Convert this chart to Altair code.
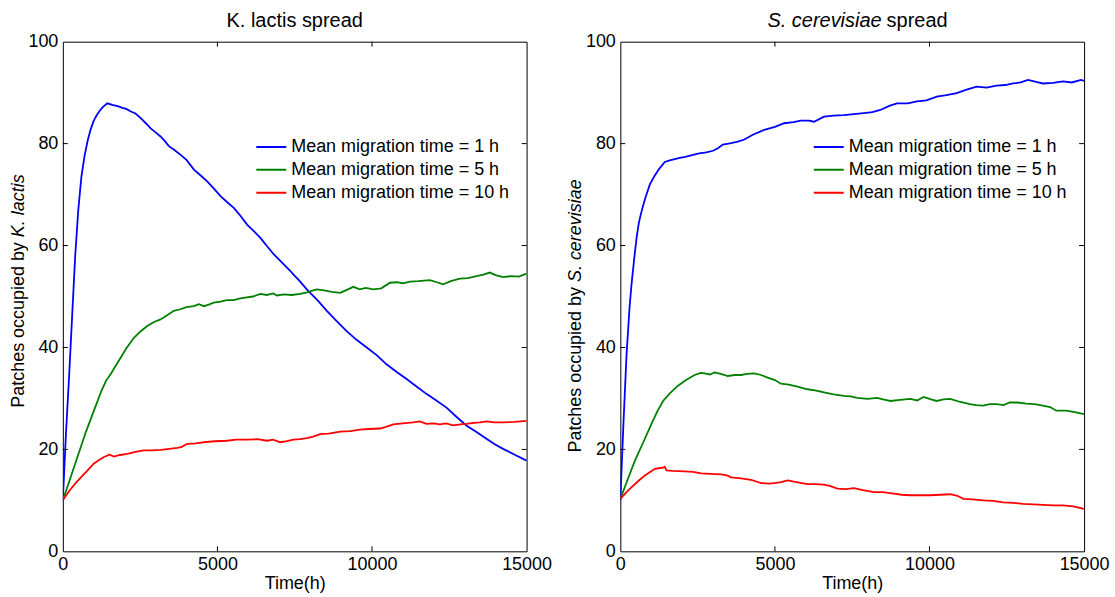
import altair as alt
import pandas as pd

FONT = "Liberation Sans"
W, H = 465, 511

SERIES = ["Mean migration time = 1 h", "Mean migration time = 5 h", "Mean migration time = 10 h"]
COLORS = ["#0000FF", "#008000", "#FF0000"]

X_TICKS = [0, 5000, 10000, 15000]
Y_TICKS = [0, 20, 40, 60, 80, 100]
INNER_X_TICKS = [5000, 10000]
INNER_Y_TICKS = [20, 40, 60, 80]

# ---- K. lactis panel ----
kl1_t = [0, 100, 200, 300, 400, 500, 600, 700, 800, 900, 1000, 1100, 1200, 1300, 1440, 1600, 1800, 1925,
         2050, 2200, 2350, 2520, 2700, 2840, 3000, 3160, 3300, 3430, 3600, 3810, 4000, 4240, 4450, 4670,
         4880, 5100, 5300, 5530, 5750, 5960, 6170, 6390, 6600, 6820, 7100, 7360, 7460, 7650, 7890, 8000,
         8250, 8540, 8850, 9180, 9500, 9830, 10150, 10470, 10800, 11120, 11450, 11760, 12080, 12410,
         12730, 13050, 13380, 13700, 13970, 14240, 14600, 15000]
kl1_v = [10, 23, 34, 46, 58, 67, 73.5, 77.5, 80.5, 82.8, 84.5, 85.6, 86.5, 87.2, 87.9, 87.6, 87.3, 87.0,
         86.8, 86.3, 85.9, 85.0, 83.9, 83.0, 82.2, 81.4, 80.5, 79.5, 78.8, 77.8, 76.8, 74.9, 73.8, 72.6,
         71.2, 69.7, 68.6, 67.4, 65.8, 64.1, 62.9, 61.5, 59.9, 58.3, 56.6, 55.0, 54.3, 53.1, 51.4, 50.7,
         49.2, 47.2, 45.2, 43.2, 41.5, 40.0, 38.5, 36.7, 35.2, 33.8, 32.3, 30.9, 29.6, 28.2, 26.4, 24.7,
         23.4, 22.1, 21.0, 20.1, 19.0, 17.8]

kl5_t = [0, 250, 500, 750, 1000, 1250, 1400, 1550, 1700, 1870, 2050, 2300, 2500, 2730, 2950, 3160, 3400,
         3590, 3800, 4000, 4240, 4400, 4560, 4720, 4880, 5100, 5300, 5530, 5700, 5900, 6150, 6390, 6600,
         6800, 6930, 7150, 7400, 7680, 7900, 8100, 8215, 8450, 8700, 8970, 9150, 9400, 9600, 9800, 10040,
         10300, 10580, 10800, 11000, 11230, 11500, 11870, 12100, 12300, 12550, 12840, 13100, 13380, 13600,
         13810, 14000, 14240, 14500, 14750, 15000]
kl5_v = [10, 14.5, 19, 23.5, 27.5, 31.5, 33.5, 34.8, 36.3, 38.0, 39.8, 41.9, 43.1, 44.2, 45.0, 45.5, 46.4,
         47.2, 47.5, 47.9, 48.1, 48.5, 48.1, 48.4, 48.8, 49.0, 49.3, 49.3, 49.6, 49.8, 50.0, 50.5, 50.3,
         50.6, 50.2, 50.4, 50.3, 50.5, 50.8, 51.2, 51.4, 51.2, 50.9, 50.7, 51.2, 51.9, 51.4, 51.7, 51.4,
         51.6, 52.7, 52.8, 52.6, 52.9, 53.0, 53.2, 52.8, 52.4, 53.0, 53.5, 53.6, 54.0, 54.3, 54.7, 54.2,
         53.8, 54.0, 53.9, 54.5]

kl10_t = [0, 200, 400, 600, 800, 1000, 1170, 1330, 1450, 1500, 1650, 1850, 2090, 2350, 2620, 2900, 3160,
          3450, 3700, 3850, 4020, 4300, 4560, 4900, 5310, 5600, 5960, 6300, 6600, 6800, 7030, 7250, 7460,
          7680, 7890, 8100, 8320, 8600, 8970, 9300, 9610, 9900, 10260, 10450, 10690, 11000, 11330, 11550,
          11760, 12000, 12190, 12400, 12620, 12850, 13050, 13300, 13500, 13700, 13950, 14240, 14600, 15000]
kl10_v = [10, 11.8, 13.3, 14.6, 15.9, 17.2, 17.9, 18.5, 18.8, 19.0, 18.6, 18.9, 19.1, 19.5, 19.8, 19.8,
          19.9, 20.1, 20.3, 20.5, 21.1, 21.2, 21.4, 21.6, 21.7, 21.9, 21.9, 22.0, 21.7, 21.9, 21.4, 21.6,
          21.9, 22.0, 22.2, 22.5, 23.0, 23.1, 23.5, 23.6, 23.9, 24.0, 24.1, 24.4, 24.9, 25.1, 25.3, 25.5,
          25.0, 25.1, 24.9, 25.1, 24.7, 24.9, 25.0, 25.2, 25.3, 25.5, 25.3, 25.3, 25.4, 25.6]

# ---- S. cerevisiae panel ----
sc1_t = [0, 100, 200, 300, 364, 450, 525, 600, 686, 800, 955, 1100, 1250, 1438, 1600, 1920, 2100, 2350,
         2550, 2780, 3000, 3155, 3315, 3583, 3800, 4013, 4300, 4656, 5000, 5300, 5600, 5836, 6100, 6265,
         6587, 6900, 7230, 7550, 7874, 8150, 8410, 8700, 8948, 9300, 9592, 9900, 10236, 10550, 10880,
         11200, 11524, 11850, 12167, 12450, 12704, 12950, 13187, 13450, 13670, 14000, 14314, 14600, 14903, 15000]
sc1_v = [10, 25, 38.5, 48, 52.5, 57.5, 61.5, 64.5, 66.7, 69.2, 72, 73.6, 75.0, 76.4, 76.7, 77.2, 77.4,
         77.8, 78.1, 78.3, 78.6, 79.1, 79.8, 80.1, 80.4, 80.8, 81.8, 82.7, 83.3, 84.0, 84.2, 84.5, 84.5,
         84.3, 85.3, 85.5, 85.6, 85.8, 86.0, 86.2, 86.6, 87.4, 87.9, 87.9, 88.3, 88.5, 89.2, 89.5, 89.9,
         90.6, 91.2, 91.0, 91.4, 91.5, 91.8, 92.0, 92.5, 92.1, 91.8, 91.9, 92.2, 92.0, 92.5, 92.3]

sc5_t = [0, 250, 472, 750, 1008, 1200, 1384, 1600, 1867, 2100, 2404, 2600, 2726, 2900, 3047, 3250, 3476,
         3700, 3905, 4100, 4335, 4550, 4764, 5000, 5193, 5450, 5730, 6052, 6300, 6588, 6900, 7232, 7450,
         7661, 8000, 8305, 8500, 8734, 9050, 9378, 9600, 9807, 10050, 10236, 10450, 10665, 11000, 11309,
         11500, 11738, 11950, 12167, 12400, 12596, 12850, 13133, 13400, 13670, 13900, 14099, 14421, 14700, 15000]
sc5_v = [10.3, 14.3, 17.8, 21.5, 25, 27.5, 29.5, 31.0, 32.5, 33.5, 34.6, 35.0, 34.9, 34.7, 35.1, 34.8,
         34.4, 34.6, 34.6, 34.8, 34.9, 34.6, 34.1, 33.6, 32.9, 32.7, 32.3, 31.8, 31.6, 31.2, 30.8, 30.5,
         30.4, 30.1, 29.9, 30.1, 29.8, 29.5, 29.7, 29.9, 29.6, 30.3, 29.8, 29.5, 29.8, 29.9, 29.3, 28.9,
         28.7, 28.6, 28.9, 28.9, 28.7, 29.2, 29.2, 29.0, 28.9, 28.6, 28.3, 27.6, 27.6, 27.3, 26.9]

sc10_t = [0, 200, 364, 600, 794, 1000, 1116, 1250, 1384, 1438, 1491, 1700, 2082, 2350, 2618, 2900, 3262,
          3450, 3583, 3900, 4227, 4400, 4549, 4800, 4979, 5200, 5408, 5700, 6052, 6300, 6588, 6800, 7017,
          7300, 7554, 7850, 8198, 8500, 8842, 9100, 9378, 9700, 10022, 10350, 10665, 10900, 11094, 11400,
          11738, 12050, 12382, 12700, 13026, 13350, 13670, 14000, 14314, 14650, 14958, 15000]
sc10_v = [10.3, 11.6, 12.6, 13.9, 14.9, 15.7, 16.2, 16.3, 16.4, 16.6, 15.9, 15.8, 15.7, 15.6, 15.3, 15.2,
          15.1, 14.9, 14.5, 14.3, 14.0, 13.7, 13.4, 13.3, 13.4, 13.6, 13.9, 13.6, 13.2, 13.2, 13.1, 12.8,
          12.3, 12.2, 12.4, 12.0, 11.6, 11.6, 11.3, 11.1, 11.0, 11.0, 11.0, 11.1, 11.2, 10.9, 10.3, 10.2,
          10.0, 9.9, 9.6, 9.5, 9.3, 9.2, 9.1, 9.0, 9.0, 8.8, 8.4, 8.3]


def build_df(tvs):
    frames = []
    for name, (t, v) in zip(SERIES, tvs):
        frames.append(pd.DataFrame({"t": t, "v": v, "series": name}))
    return pd.concat(frames, ignore_index=True)


def x_enc():
    return alt.X("t:Q", scale=alt.Scale(domain=[0, 15000], nice=False, zero=False),
                 axis=alt.Axis(values=X_TICKS, title="Time(h)", format="d", labelFlush=False,
                               labelPadding=4, titlePadding=1))


def y_enc():
    return alt.Y("v:Q", scale=alt.Scale(domain=[0, 100], nice=False),
                 axis=alt.Axis(values=Y_TICKS, title=None, labelPadding=5))


def panel(df, title_parts, ylabel_italic, ylab_join, title_join):
    lines = alt.Chart(df).mark_line(strokeWidth=1.8, clip=True).encode(
        x=x_enc(),
        y=y_enc(),
        color=alt.Color("series:N", scale=alt.Scale(domain=SERIES, range=COLORS),
                        legend=alt.Legend(orient="none", legendX=193, legendY=94, title=None,
                                          symbolType="stroke", symbolSize=900, symbolStrokeWidth=2,
                                          labelFontSize=18, labelFont=FONT, labelColor="black",
                                          clipHeight=23, rowPadding=0, labelOffset=4, padding=0,
                                          labelLimit=400)),
        order="t:Q",
    )
    xt = pd.DataFrame({"t": INNER_X_TICKS})
    yt = pd.DataFrame({"v": INNER_Y_TICKS})
    tb = alt.Chart(xt).mark_rule(color="black", strokeWidth=1).encode(
        x=x_enc(), y=alt.value(H), y2=alt.value(H - 5))
    tt = alt.Chart(xt).mark_rule(color="black", strokeWidth=1).encode(
        x=x_enc(), y=alt.value(0), y2=alt.value(5))
    tl = alt.Chart(yt).mark_rule(color="black", strokeWidth=1).encode(
        y=y_enc(), x=alt.value(0), x2=alt.value(5))
    tr = alt.Chart(yt).mark_rule(color="black", strokeWidth=1).encode(
        y=y_enc(), x=alt.value(W), x2=alt.value(W - 5))

    # rotated y label: normal part + italic species name
    ylab_a = alt.Chart(pd.DataFrame({"txt": ["Patches occupied by"]})).mark_text(
        angle=270, align="right", baseline="middle", font=FONT, fontSize=18, color="black"
    ).encode(text="txt:N", x=alt.value(-44), y=alt.value(ylab_join))
    ylab_b = alt.Chart(pd.DataFrame({"txt": [ylabel_italic]})).mark_text(
        angle=270, align="left", baseline="middle", font=FONT, fontSize=18, fontStyle="italic",
        color="black"
    ).encode(text="txt:N", x=alt.value(-44), y=alt.value(ylab_join - 5))

    layers = [lines, tb, tt, tl, tr, ylab_a, ylab_b]
    (t1, s1), (t2, s2) = title_parts
    if t2 == "":
        layers.append(alt.Chart(pd.DataFrame({"txt": [t1]})).mark_text(
            align="center", baseline="alphabetic", font=FONT, fontSize=20, fontStyle=s1, color="black"
        ).encode(text="txt:N", x=alt.value(W / 2), y=alt.value(-15)))
    else:
        layers.append(alt.Chart(pd.DataFrame({"txt": [t1]})).mark_text(
            align="right", baseline="alphabetic", font=FONT, fontSize=20, fontStyle=s1, color="black"
        ).encode(text="txt:N", x=alt.value(title_join), y=alt.value(-15)))
        layers.append(alt.Chart(pd.DataFrame({"txt": [t2]})).mark_text(
            align="left", baseline="alphabetic", font=FONT, fontSize=20, fontStyle=s2, color="black"
        ).encode(text="txt:N", x=alt.value(title_join + 5), y=alt.value(-15)))
    return alt.layer(*layers).properties(width=W, height=H)


df_kl = build_df([(kl1_t, kl1_v), (kl5_t, kl5_v), (kl10_t, kl10_v)])
df_sc = build_df([(sc1_t, sc1_v), (sc5_t, sc5_v), (sc10_t, sc10_v)])

left = panel(df_kl, [("K. lactis spread", "normal"), ("", "normal")], "K. lactis", 201, 0)
right = panel(df_sc, [("S. cerevisiae", "italic"), ("spread", "normal")], "S. cerevisiae", 246, 262)

chart = alt.hconcat(left, right, spacing=94, bounds="flush").resolve_scale(
    color="independent"
).properties(
    padding={"left": 9, "top": 9, "right": 5, "bottom": 5},
    background="white",
).configure_view(
    stroke="black", strokeWidth=1
).configure_axis(
    labelFont=FONT, labelFontSize=18, labelColor="black", titleFont=FONT, titleFontSize=18,
    titleColor="black", titleFontWeight="normal", ticks=False, domain=False, grid=False,
)

chart.save("out.html", embed_options={"renderer": "svg", "actions": False})
